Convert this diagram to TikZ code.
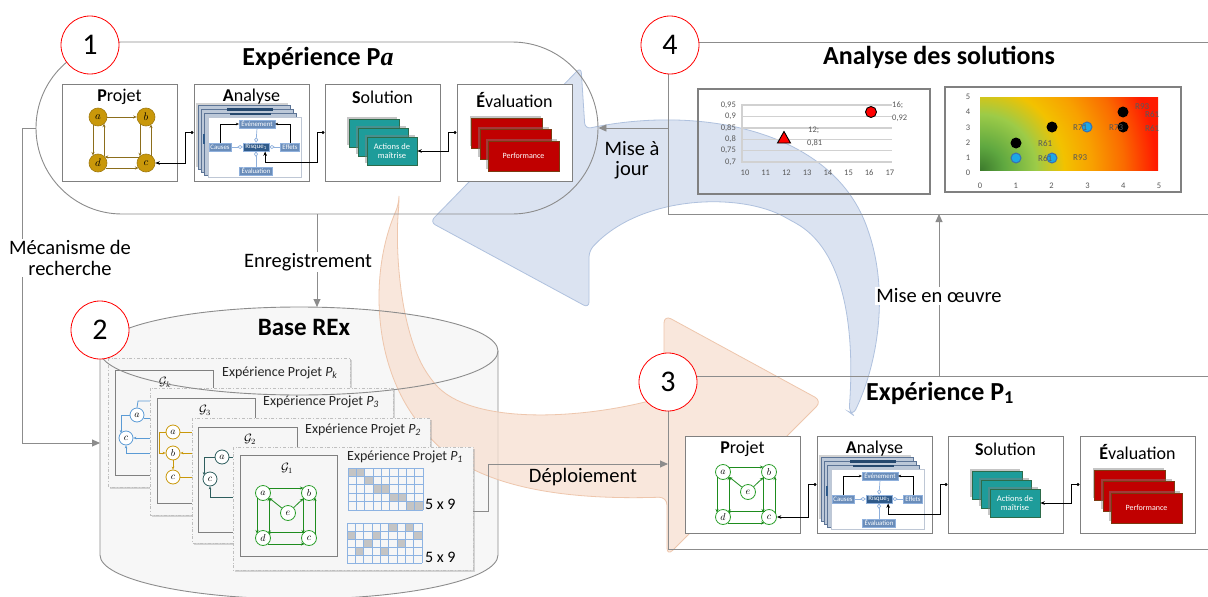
\documentclass[tikz,border=0pt]{standalone}
\usepackage{fontspec}
\setmainfont{Carlito}
\newfontfamily\serifbi{Liberation Serif}
\usepackage{amsmath}
\usetikzlibrary{arrows.meta,shadows,calc}
\definecolor{lineg}{HTML}{8C8C8C}
\definecolor{boxg}{HTML}{808080}
\definecolor{goldf}{HTML}{C9980A}
\definecolor{goldb}{HTML}{A07A10}
\definecolor{goldd}{HTML}{8C6E1C}
\definecolor{grn}{HTML}{2EA02E}
\definecolor{grnd}{HTML}{1E8C1E}
\definecolor{teal1}{HTML}{1E9C9A}
\definecolor{teald}{HTML}{2D6B4A}
\definecolor{red1}{HTML}{C00000}
\definecolor{redd}{HTML}{7A3A10}
\definecolor{bluebox}{HTML}{6A8DBA}
\definecolor{blueboxd}{HTML}{2F5A8A}
\definecolor{bluel}{HTML}{8FB0DC}
\definecolor{stackf}{HTML}{BCC8D8}
\definecolor{stackd}{HTML}{5C7496}
\definecolor{arrb}{HTML}{D3DDEE}
\definecolor{arrbd}{HTML}{AFC1DE}
\definecolor{arro}{HTML}{F7E0D1}
\definecolor{arrod}{HTML}{EEC6AC}
\definecolor{cardf}{HTML}{F6F6F6}
\definecolor{cylf}{HTML}{F7F7F7}
\definecolor{gridb}{HTML}{8DB3E2}
\definecolor{cellg}{HTML}{C4C4C4}
\definecolor{txtg}{HTML}{595959}
\definecolor{darkteal}{HTML}{2E5E5E}
\definecolor{lblue}{HTML}{5B9BD5}
\definecolor{ptblue}{HTML}{1CA8E6}
\definecolor{ptblued}{HTML}{3A6FB0}
\definecolor{hm0}{HTML}{3C7A2C}
\definecolor{hm1}{HTML}{5FA840}
\definecolor{hm2}{HTML}{9CCB48}
\definecolor{hm3}{HTML}{F2C200}
\definecolor{hm4}{HTML}{F8A000}
\definecolor{hm5}{HTML}{FA6A00}
\definecolor{hm6}{HTML}{FF1A00}
\pgfdeclareradialshading{heatmap}{\pgfpoint{0bp}{0bp}}{color(0bp)=(hm0);color(3bp)=(hm1);color(7bp)=(hm2);color(10.5bp)=(hm3);color(14bp)=(hm4);color(18bp)=(hm5);color(22bp)=(hm6);color(50bp)=(hm6)}
\newcommand\fsz[1]{\fontsize{#1}{#1}\selectfont}
% panel content: prefix, xshift, yshift
\newcommand\panelboxes[3]{%
\begin{scope}[shift={(#2,#3)}]
 \node[pbox] (#1P) at (119.5,132.5) {};
 \node[pbox] (#1A) at (251.5,132.5) {};
 \node[pbox] (#1S) at (382.5,132.5) {};
 \node[pbox] (#1E) at (514.5,132.5) {};
 \node[btitle] at (119.5,97) {\textbf{P}rojet};
 \node[btitle] at (251.5,97) {\textbf{A}nalyse};
 \node[btitle] at (382.5,97) {\textbf{S}olution};
 \node[btitle] at (514.5,100) {\textbf{É}valuation};
 \begin{scope}[shift={(194,84)}]
  \filldraw[fill=stackf,draw=stackd,line width=0.4pt,drop shadow={opacity=0.35,shadow xshift=-2pt,shadow yshift=2pt}] (4,21) rectangle (96,85);
  \filldraw[fill=stackf,draw=stackd,line width=0.4pt] (7,25) rectangle (99,88);
  \filldraw[fill=stackf,draw=stackd,line width=0.4pt] (10,29) rectangle (102,91);
  \fill[blueboxd!80!black] (33,24) rectangle (79,26.5);
  \fill[blueboxd!80!black] (36,29) rectangle (77,31);
  \filldraw[fill=white,draw=stackd!40] (14,33) rectangle (107,93);
  \fill[blueboxd] (9,50) rectangle (10.6,60);
  \node[anab,minimum width=36pt] (#1ev) at (63,40) {Événement};
  \node[anab,minimum width=22pt] (#1ca) at (26,63) {Causes};
  \node[anab,minimum width=26pt,fill=blueboxd] (#1ri) at (62,63) {Risque\textsubscript{1}};
  \node[anab,minimum width=19pt] (#1ef) at (96,63) {Effets};
  \node[anab,minimum width=33pt] (#1eva) at (62,87) {Évaluation};
 \end{scope}
 \begin{scope}[shift={(325,83)}]
  \node[solr] at (49,50) {};
  \node[solr] at (58,59) {};
  \node[solr] (#1act) at (67,68) {Actions de\\maîtrise};
 \end{scope}
 \begin{scope}[shift={(457,83)}]
  \node[evr] at (50,50) {};
  \node[evr] at (58.5,61) {};
  \node[evr] (#1perf) at (66.5,73) {Performance};
 \end{scope}
\end{scope}
 \draw[smallarr] (#1ca.north) |- (#1ev.west);
 \draw[smallarr] (#1ef.north) |- (#1ev.east);
 \draw[dia] (#1ri.north) -- (#1ev.south);
 \draw[dia] (#1ri.west) -- (#1ca.east);
 \draw[dia] (#1ri.east) -- (#1ef.west);
 \draw[dia] (#1ri.south) -- (#1eva.north);
}
\newcommand\panelconn[1]{%
 \coordinate (#1m1) at ($(#1P.east)!0.5!(#1A.west)$);
 \coordinate (#1m2) at ($(#1A.east)!0.5!(#1S.west)$);
 \coordinate (#1m3) at ($(#1S.east)!0.5!(#1E.west)$);
 \draw[conn] (#1A.west) -- (#1m1) |- (#1c.east);
 \draw[conn] (#1S.west) -- (#1m2) |- ($(#1ri.south east)+(-4,10.5)$) -- ($(#1ri.south east)+(-4,0)$);
 \draw[conn] (#1E.west) -- (#1m3) |- (#1act.east);
}
% green graph: prefix, x, y
\newcommand\greengraph[3]{%
 \begin{scope}[shift={(#2,#3)}]
 \node[grnode] (#1a) at (0,0) {$a$};
 \node[grnode] (#1b) at (46,0) {$b$};
 \node[grnode] (#1e) at (25,20) {$e$};
 \node[grnode] (#1d) at (0,45) {$d$};
 \node[grnode] (#1c) at (46,45) {$c$};
 \end{scope}
 \draw[gre] ($(#1a)+(5.6,-5)$) -- ($(#1b)+(-5.6,-5)$);
 \draw[gre] ($(#1a)+(-6,4.5)$) -- ($(#1d)+(-6,-4.5)$);
 \draw[gre] ($(#1d)+(6,-4.5)$) -- ($(#1a)+(6,4.5)$);
 \draw[gre] ($(#1b)+(-6,4.5)$) -- ($(#1c)+(-6,-4.5)$);
 \draw[gre] ($(#1c)+(6,-4.5)$) -- ($(#1b)+(6,4.5)$);
 \draw[gre] ($(#1c)+(-4.5,-6)$) -- ($(#1d)+(4.5,-6)$);
 \draw[gre] ($(#1d)+(4.5,6)$) -- ($(#1c)+(-4.5,6)$);
 \draw[gre] (#1e) -- (#1a);
 \draw[gre] (#1e) -- (#1b);
}
\begin{document}
\begin{tikzpicture}[x=1pt,y=-1pt,
 panl/.style={draw=lineg,line width=0.9pt},
 pbox/.style={rectangle,draw=boxg,line width=0.9pt,fill=white,minimum width=115pt,minimum height=97pt,inner sep=0pt},
 numc/.style={circle,draw=red,line width=0.8pt,fill=white,minimum size=58pt,inner sep=0pt,font=\fsz{30}},
 btitle/.style={inner sep=0pt,font=\fsz{18}},
 bigtitle/.style={inner sep=0pt,font=\fsz{26}\bfseries},
 lbl/.style={inner sep=1.5pt,font=\fsz{20.5},align=center},
 garr/.style={draw=lineg,line width=0.9pt,-{Triangle[length=8pt,width=7pt]}},
 anab/.style={rectangle,fill=bluebox,draw=bluel,line width=0.3pt,text=white,font=\fsz{6.8},inner sep=0.4pt,minimum height=8.5pt},
 smallarr/.style={black,line width=0.6pt,-{Stealth[length=3pt,width=2.6pt]}},
 dia/.style={draw=bluel,line width=0.7pt,{Diamond[length=5.5pt,width=4pt,fill=white]}-},
 conn/.style={black,line width=0.7pt,{Circle[length=3pt]}-{Stealth[length=4.5pt,width=3.6pt]}},
 solr/.style={rectangle,fill=teal1,draw=teald,line width=0.6pt,minimum width=50pt,minimum height=28pt,text=white,font=\fsz{8.5},align=center,inner sep=0pt,drop shadow={opacity=0.45,shadow xshift=-2pt,shadow yshift=2pt}},
 evr/.style={rectangle,fill=red1,draw=redd,line width=0.6pt,minimum width=71pt,minimum height=30pt,text=white,font=\fsz{8},inner sep=0pt,drop shadow={opacity=0.45,shadow xshift=-2pt,shadow yshift=2pt}},
 gnode/.style={circle,fill=goldf,draw=goldb,line width=0.6pt,minimum size=18pt,inner sep=0pt,font=\fsz{11}},
 gedge/.style={draw=goldd,line width=0.8pt,-{Stealth[length=3.5pt,width=3pt]}},
 grnode/.style={circle,fill=white,draw=grn,line width=0.8pt,minimum size=15pt,inner sep=0pt,font=\fsz{10}},
 gre/.style={draw=grnd,line width=0.8pt,-{Stealth[length=3.5pt,width=3pt]}},
 smnode/.style={circle,fill=white,line width=0.8pt,minimum size=14pt,inner sep=0pt,font=\fsz{10}},
 sme/.style={line width=0.8pt},
 card/.style={fill=cardf,draw=gray!50,dash dot,line width=0.6pt,drop shadow={opacity=0.3,shadow xshift=2pt,shadow yshift=-2pt}},
 frm/.style={draw=boxg,line width=0.8pt},
 ctitle/.style={inner sep=0pt,anchor=west,font=\fsz{14},text=black!85},
 axl/.style={inner sep=0pt,font=\fsz{8.5},text=txtg},
 chbox/.style={draw=boxg,line width=1.5pt},
 gridl/.style={draw=black!18,line width=1.4pt},
 sml/.style={inner sep=0pt,font=\fsz{12}}
]
\useasboundingbox (0,0) rectangle (1208,597);
\fill[white] (0,0) rectangle (1208,597);

% ---------- cylinder body ----------
\fill[cylf] (100,351) -- (100,555) arc[start angle=180,end angle=360,x radius=199pt,y radius=44pt] -- (498,351) arc[start angle=0,end angle=180,x radius=199pt,y radius=44pt] -- cycle;
\draw[panl] (100,351) -- (100,555) arc[start angle=180,end angle=360,x radius=199pt,y radius=44pt] -- (498,351);

% ---------- big background arrows ----------
\filldraw[fill=arrb,draw=arrbd,line width=0.8pt,fill opacity=0.8,rounded corners=6pt] (430,222) -- (581,67) -- (585,129) .. controls (700,105) and (830,130) .. (868,230) .. controls (890,300) and (875,370) .. (853,415) -- (849,412) .. controls (855,330) and (845,250) .. (790,220) .. controls (740,192) and (640,195) .. (589,251) -- (589,308) -- cycle;
\filldraw[fill=arro,draw=arrod,line width=0.8pt,fill opacity=0.75,rounded corners=8pt] (399,204) .. controls (370,270) and (372,360) .. (420,425) .. controls (470,490) and (570,500) .. (667,497) -- (667,556) -- (822,401) -- (664,315) -- (664,397) .. controls (580,420) and (470,425) .. (430,378) .. controls (400,330) and (395,250) .. (399,204) -- cycle;

% ---------- cards in the base ----------
% card k
\draw[card] (108,358) rectangle (350,487);
\draw[frm] (115,370) rectangle (213,475);
\node[sml] at (165,382) {$\mathcal{G}_k$};
\node[smnode,draw=lblue] (ka) at (137,415) {$a$};
\node[smnode,draw=lblue] (kc) at (126,438) {$c$};
\draw[sme,draw=lblue,-{Stealth[length=3pt,width=2.6pt]}] (ka.west) -- (121,415) -- ($(kc)+(-5,-5)$);
\draw[sme,draw=lblue] (ka.north) -- (138,401) -- (160,401);
\draw[sme,draw=lblue] ($(ka)+(6.5,3)$) -- (160,418);
\draw[sme,draw=lblue,-{Stealth[length=3pt,width=2.6pt]}] (160,438) -- (kc.east);
\draw[sme,draw=lblue,-{Stealth[length=3pt,width=2.6pt]}] (160,453) -- (126,453) -- (kc.south);
\node[ctitle] at (222,373) {Expérience Projet \textit{P}\textsubscript{\textit{k}}};
% card 3
\draw[card] (150,388) rectangle (393,515);
\draw[frm] (157,398) rectangle (255,503);
\node[sml] at (205,410) {$\mathcal{G}_3$};
\node[smnode,draw=goldf] (ta) at (173,432) {$a$};
\node[smnode,draw=goldf] (tb) at (173,453) {$b$};
\node[smnode,draw=goldf] (tc) at (173,477) {$c$};
\draw[sme,draw=goldf,-{Stealth[length=3pt,width=2.6pt]}] (ta.west) -- (159,432) -- (159,453) -- (tb.west);
\draw[sme,draw=goldf,-{Stealth[length=3pt,width=2.6pt]}] (tb.south) -- (tc.north);
\draw[sme,draw=goldf] (ta.east) -- (200,432);
\draw[sme,draw=goldf,-{Stealth[length=3pt,width=2.6pt]}] (200,453) -- (tb.east);
\draw[sme,draw=goldf] (tc.east) -- (200,477);
\node[ctitle] at (263,402) {Expérience Projet \textit{P}\textsubscript{\textit{3}}};
% card 2
\draw[card] (192,418) rectangle (430,543);
\draw[frm] (198,427) rectangle (297,532);
\node[sml] at (250,439) {$\mathcal{G}_2$};
\node[smnode,draw=darkteal] (sa) at (222,457) {$a$};
\node[smnode,draw=darkteal] (sc) at (210,479) {$c$};
\draw[sme,draw=darkteal,-{Stealth[length=3pt,width=2.6pt]}] (sa.west) -- (204,457) -- ($(sc)+(-6,-4)$);
\draw[sme,draw=darkteal,-{Stealth[length=3pt,width=2.6pt]}] (245,497) -- (210,497) -- (sc.south);
\draw[sme,draw=darkteal] (sa.east) -- (240,457);
\node[ctitle] at (305,430) {Expérience Projet \textit{P}\textsubscript{\textit{2}}};
% card 1
\draw[card] (233,447) rectangle (473,570);
\draw[frm] (240,455) rectangle (337,556);
\node[sml] at (287,468) {$\mathcal{G}_1$};
\greengraph{ga}{263}{493}
\node[ctitle] at (347,457) {Expérience Projet \textit{P}\textsubscript{\textit{1}}};
% matrices
\foreach \r/\c in {1/1,1/2,2/3,3/4,3/5,4/6,4/7,5/8,5/9}
  \fill[cellg] ({348+(\c-1)*8.33},{468+(\r-1)*8.4}) rectangle ++(8.33,8.4);
\foreach \i in {0,...,9} \draw[gridb,line width=0.8pt] ({348+\i*8.33},468) -- ++(0,42);
\foreach \j in {0,...,5} \draw[gridb,line width=0.8pt] (348,{468+\j*8.4}) -- ++(75,0);
\foreach \r/\c in {1/6,1/8,2/1,2/4,2/9,3/3,3/7,4/2,4/5}
  \fill[cellg] ({347+(\c-1)*8.33},{523+(\r-1)*8}) rectangle ++(8.33,8);
\foreach \i in {0,...,9} \draw[gridb,line width=0.8pt] ({347+\i*8.33},523) -- ++(0,40);
\foreach \j in {0,...,5} \draw[gridb,line width=0.8pt] (347,{523+\j*8}) -- ++(75,0);
\node[inner sep=0pt,anchor=west,font=\fsz{16}] (m1) at (425,504) {5 x 9};
\node[inner sep=0pt,anchor=west,font=\fsz{16}] (m2) at (425,557) {5 x 9};

% cylinder top ellipse
\draw[panl] (299,351) ellipse [x radius=199pt,y radius=44pt];
\coordinate (cyltop) at (317,307);
\coordinate (cylleft) at (100,443);
\node[numc] (c2) at (100,330) {2};
\node[inner sep=0pt,font=\fsz{25}\bfseries] at (304,327) {Base REx};

% ---------- panel 1 ----------
\node[panl,rectangle,rounded corners=86pt,minimum width=562pt,minimum height=172pt] (pan1) at (317,128) {};
\node[numc] (c1) at (90,45) {1};
\node[bigtitle] at (318,58) {Expérience P{\serifbi\bfseries\itshape a}};
\panelboxes{p1}{0}{0}
\node[gnode] (p1a) at (98,117) {$a$};
\node[gnode] (p1b) at (146,117) {$b$};
\node[gnode] (p1d) at (98,163) {$d$};
\node[gnode] (p1c) at (146,163) {$c$};
\draw[gedge] (p1a) -- (p1b);
\draw[gedge] ($(p1a)+(-5,7.5)$) -- ($(p1d)+(-5,-7.5)$);
\draw[gedge] ($(p1d)+(6,-6.7)$) -- ($(p1a)+(6,6.7)$);
\draw[gedge] ($(p1b)+(-6,6.7)$) -- ($(p1c)+(-6,-6.7)$);
\draw[gedge] ($(p1c)+(5,-7.5)$) -- ($(p1b)+(5,7.5)$);
\draw[gedge] ($(p1c)+(-6.7,-6)$) -- ($(p1d)+(6.7,-6)$);
\draw[gedge] ($(p1d)+(7.5,5)$) -- ($(p1c)+(-7.5,5)$);
\panelconn{p1}

% ---------- panel 4 ----------
\draw[panl] (1208,42) -- (668,42) -- (668,214) -- (1208,214);
\node[numc] (c4) at (670,45) {4};
\node[bigtitle] at (939,57) {Analyse des solutions};
% chart 1
\draw[chbox] (698,89) rectangle (930,194);
\foreach \yy in {105,116.4,127.8,139.2,150.6} \draw[gridl] (742,\yy) -- (892,\yy);
\draw[gridl] (742,104) -- (742,162) -- (892,162);
\node[axl,anchor=east] at (736,105) {0,95};
\node[axl,anchor=east] at (736,116.4) {0,9};
\node[axl,anchor=east] at (736,127.8) {0,85};
\node[axl,anchor=east] at (736,139.2) {0,8};
\node[axl,anchor=east] at (736,150.6) {0,75};
\node[axl,anchor=east] at (736,162) {0,7};
\foreach \k in {10,...,17} \node[axl] at ({745+(\k-10)*20.7},173) {\k};
\node[circle,fill=red,draw=black,line width=0.9pt,minimum size=11pt,inner sep=0pt] (q1) at (871,112) {};
\filldraw[fill=red,draw=black,line width=0.9pt] (784,131.5) -- (790.5,143) -- (777.5,143) -- cycle;
\node[axl,anchor=west] at (892,105) {16;};
\node[axl,anchor=west] at (892,118) {0,92};
\node[axl,anchor=west] at (808,130) {12;};
\node[axl,anchor=west] at (807,143) {0,81};
% chart 2
\draw[chbox] (945,87) rectangle (1181,192);
\begin{scope}
 \clip (980,97) rectangle (1158,170);
 \shade[shading=heatmap] (980,170) circle (200pt);
\end{scope}
\foreach \k in {0,...,5} \node[axl] at (968,{173-\k*15.2}) {\k};
\foreach \k in {0,...,5} \node[axl] at ({980+\k*35.8},186) {\k};
\foreach \p in {(1016,143),(1052,127),(1123,112),(1123,127)} \fill[black] \p circle (5.5pt);
\foreach \p in {(1016,158),(1052,158),(1087,127)} \filldraw[fill=ptblue,draw=ptblued,line width=1pt] \p circle (5pt);
\node[axl,anchor=west,font=\fsz{9}] at (1038,143) {R61};
\node[axl,anchor=west,font=\fsz{9}] at (1038,158) {R61};
\node[axl,anchor=west,font=\fsz{9}] at (1073,158) {R93};
\node[axl,anchor=west,font=\fsz{9}] at (1073,128) {R71};
\node[axl,anchor=west,font=\fsz{9}] at (1109,128) {R73};
\node[axl,anchor=west,font=\fsz{9}] at (1145,128) {R61};
\node[axl,anchor=west,font=\fsz{9}] at (1135,107) {R93};
\node[axl,anchor=west,font=\fsz{9}] at (1145,114) {R61};

% ---------- panel 3 ----------
\draw[panl] (1208,376) -- (668,376) -- (668,549) -- (1208,549);
\node[numc] (c3) at (668,382) {3};
\node[bigtitle] at (940,393) {Expérience P\textsubscript{1}};
\panelboxes{p3}{623}{352}
\greengraph{p3}{723}{472}
\panelconn{p3}

% ---------- connectors between parts ----------
\coordinate (p4left) at (668,128);
\draw[garr] (p4left) -- (pan1.east);
\node[lbl] at (632,160) {Mise à\\jour};
\draw[garr] (pan1.south) -- (pan1.south |- cyltop);
\node[lbl,fill=white] at (308,262) {Enregistrement};
\draw[garr] (pan1.west) -- (22,128) -- (22,443) -- (cylleft);
\node[lbl,fill=white] at (70,258) {Mécanisme de\\recherche};
\coordinate (p3top) at (939,376);
\coordinate (p4bot) at (939,214);
\draw[garr] (p3top) -- (p4bot);
\node[lbl,fill=white] at (939,296) {Mise en œuvre};
\coordinate (dep0) at (473,511);
\coordinate (p3left) at (668,464);
\draw[garr] (dep0) -- (488,511) -- (488,464) -- (p3left);
\node[lbl] at (583,477) {Déploiement};
\end{tikzpicture}
\end{document}
